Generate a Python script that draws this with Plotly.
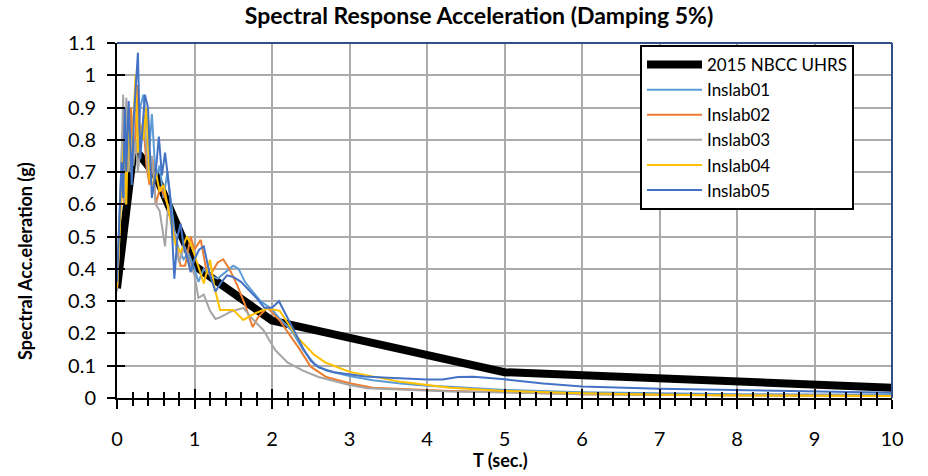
import plotly.graph_objects as go

# ---------------- data ----------------
T_nbcc = [0, 0.05, 0.1, 0.2, 0.3, 0.5, 1.0, 2.0, 5.0, 10.0]
sa_nbcc = [0.34, 0.43, 0.53, 0.74, 0.75, 0.69, 0.41, 0.24, 0.08, 0.032]

T01 = [0, 0.04, 0.07, 0.1, 0.13, 0.16, 0.2, 0.24, 0.27, 0.3, 0.34, 0.38, 0.42, 0.45, 0.5, 0.55, 0.6, 0.65, 0.7, 0.75,
       0.8, 0.86, 0.92, 1.0, 1.05, 1.12, 1.2, 1.3, 1.4, 1.5, 1.57, 1.65, 1.75, 1.85, 2.0, 2.1, 2.25, 2.4, 2.55, 2.7,
       3.0, 3.3, 3.66, 4.0, 4.3, 5.0, 6.0, 7.0, 8.0, 9.0, 10.0]
sa01 = [0.35, 0.6, 0.82, 0.7, 0.88, 0.75, 0.85, 0.93, 0.8, 0.9, 0.94, 0.85, 0.78, 0.88, 0.68, 0.72, 0.62, 0.7, 0.6, 0.5,
        0.46, 0.43, 0.45, 0.40, 0.36, 0.40, 0.38, 0.37, 0.39, 0.41, 0.40, 0.36, 0.33, 0.30, 0.275, 0.245, 0.21, 0.15, 0.105, 0.085,
        0.068, 0.055, 0.045, 0.038, 0.035, 0.025, 0.018, 0.014, 0.012, 0.011, 0.01]

T02 = [0, 0.03, 0.06, 0.09, 0.12, 0.15, 0.18, 0.21, 0.24, 0.27, 0.3, 0.34, 0.38, 0.42, 0.46, 0.5, 0.56, 0.62, 0.68, 0.74,
       0.82, 0.88, 0.95, 1.0, 1.08, 1.15, 1.2, 1.3, 1.37, 1.45, 1.55, 1.65, 1.75, 1.82, 1.94, 2.1, 2.36, 2.5, 2.7, 3.0,
       3.3, 4.3, 5.0, 6.0, 7.0, 8.0, 10.0]
sa02 = [0.34, 0.5, 0.7, 0.6, 0.85, 0.72, 0.9, 0.75, 0.82, 0.97, 0.78, 0.86, 0.72, 0.66, 0.74, 0.6, 0.655, 0.62, 0.58, 0.5,
        0.41, 0.41, 0.5, 0.46, 0.49, 0.40, 0.38, 0.42, 0.43, 0.40, 0.35, 0.29, 0.22, 0.25, 0.28, 0.24, 0.15, 0.097, 0.065, 0.046,
        0.032, 0.022, 0.018, 0.012, 0.01, 0.008, 0.006]

T03 = [0, 0.03, 0.06, 0.08, 0.1, 0.12, 0.15, 0.18, 0.21, 0.24, 0.27, 0.3, 0.35, 0.4, 0.45, 0.5, 0.55, 0.62, 0.66, 0.72,
       0.8, 0.87, 0.94, 1.0, 1.05, 1.12, 1.2, 1.27, 1.33, 1.46, 1.63, 1.76, 1.89, 2.04, 2.2, 2.4, 2.6, 3.0, 3.23, 4.3,
       5.0, 6.0, 8.0, 10.0]
sa03 = [0.33, 0.5, 0.75, 0.94, 0.6, 0.93, 0.7, 0.8, 0.72, 0.8, 0.7, 0.78, 0.88, 0.7, 0.75, 0.6, 0.58, 0.47, 0.6, 0.52,
        0.42, 0.47, 0.42, 0.38, 0.31, 0.32, 0.27, 0.245, 0.25, 0.267, 0.279, 0.242, 0.21, 0.149, 0.11, 0.085, 0.065, 0.04, 0.03, 0.02,
        0.017, 0.012, 0.008, 0.006]

T04 = [0, 0.03, 0.06, 0.09, 0.12, 0.15, 0.18, 0.21, 0.24, 0.27, 0.3, 0.34, 0.38, 0.42, 0.46, 0.5, 0.55, 0.6, 0.65, 0.7,
       0.75, 0.82, 0.9, 0.95, 1.0, 1.06, 1.12, 1.2, 1.26, 1.33, 1.5, 1.63, 1.76, 1.94, 2.1, 2.32, 2.54, 2.69, 3.0, 3.66,
       4.3, 5.0, 6.0, 7.0, 8.0, 10.0]
sa04 = [0.34, 0.5, 0.65, 0.8, 0.6, 0.9, 0.7, 0.85, 1.0, 0.76, 0.85, 0.8, 0.9, 0.68, 0.66, 0.7, 0.64, 0.66, 0.6, 0.55,
        0.48, 0.45, 0.5, 0.48, 0.44, 0.40, 0.355, 0.428, 0.34, 0.273, 0.273, 0.242, 0.26, 0.278, 0.27, 0.19, 0.135, 0.11, 0.081, 0.05,
        0.032, 0.022, 0.015, 0.01, 0.008, 0.006]

T05 = [0, 0.03, 0.06, 0.08, 0.1, 0.12, 0.15, 0.17, 0.19, 0.22, 0.25, 0.27, 0.3, 0.33, 0.36, 0.4, 0.45, 0.5, 0.54, 0.58,
       0.62, 0.65, 0.69, 0.74, 0.78, 0.82, 0.86, 0.9, 0.95, 1.0, 1.06, 1.12, 1.2, 1.27, 1.35, 1.42, 1.5, 1.6, 1.7, 1.8,
       1.9, 2.0, 2.09, 2.2, 2.3, 2.4, 2.5, 2.6, 2.8, 3.0, 3.2, 3.5, 3.8, 4.0, 4.2, 4.4, 4.6, 4.8, 5.0, 5.5,
       6.0, 7.0, 8.0, 9.0, 10.0]
sa05 = [0.36, 0.55, 0.73, 0.62, 0.90, 0.70, 0.92, 0.80, 0.66, 0.88, 0.98, 1.07, 0.74, 0.85, 0.94, 0.90, 0.62, 0.70, 0.81, 0.69,
        0.76, 0.70, 0.61, 0.37, 0.50, 0.54, 0.47, 0.44, 0.39, 0.43, 0.46, 0.47, 0.38, 0.33, 0.36, 0.38, 0.375, 0.36, 0.335, 0.31,
        0.28, 0.28, 0.30, 0.25, 0.20, 0.155, 0.115, 0.095, 0.08, 0.074, 0.067, 0.063, 0.059, 0.057, 0.057, 0.065, 0.066, 0.062, 0.058, 0.045,
        0.036, 0.029, 0.024, 0.02, 0.016]

x_ticks = list(range(0, 11))
x_tick_labels = [str(v) for v in x_ticks]
y_ticks = [0, 0.1, 0.2, 0.3, 0.4, 0.5, 0.6, 0.7, 0.8, 0.9, 1.0, 1.1]
y_tick_labels = ["0", "0.1", "0.2", "0.3", "0.4", "0.5", "0.6", "0.7", "0.8", "0.9", "1", "1.1"]

series = [
    ("Inslab01", T01, sa01, "#5B9BD5"),
    ("Inslab02", T02, sa02, "#ED7D31"),
    ("Inslab03", T03, sa03, "#A5A5A5"),
    ("Inslab04", T04, sa04, "#FFC000"),
    ("Inslab05", T05, sa05, "#4472C4"),
]

FONT = "Lato"
fig = go.Figure()
fig.add_trace(go.Scatter(x=T_nbcc, y=sa_nbcc, mode="lines", name="2015 NBCC UHRS",
                         line=dict(color="black", width=8)))
for name, xs, ys, col in series:
    fig.add_trace(go.Scatter(x=xs, y=ys, mode="lines", name=name, line=dict(color=col, width=2)))

# empty trace on the companion axes that draw the inner half of the cross ticks
fig.add_trace(go.Scatter(x=[], y=[], xaxis="x2", yaxis="y2", showlegend=False, hoverinfo="skip"))

grid_col = "#ABABAB"
fig.update_layout(
    width=928, height=476,
    margin=dict(l=117, r=36, t=43, b=78),
    paper_bgcolor="white", plot_bgcolor="white",
    font=dict(family=FONT, color="black"),
    title=dict(text="<b>Spectral Response Acceleration (Damping 5%)</b>",
               x=479 / 928, xref="container", xanchor="center",
               y=1 - 16 / 476, yref="container", yanchor="middle",
               font=dict(family=FONT, size=23, color="black")),
    xaxis=dict(range=[0, 10], tickvals=x_ticks, ticktext=x_tick_labels,
               showgrid=True, gridcolor=grid_col, gridwidth=1.5,
               showline=True, linecolor="black", linewidth=2,
               ticks="outside", ticklen=9, tickwidth=1.5, tickcolor="black",
               minor=dict(dtick=0.2, ticks="outside", ticklen=6, tickwidth=1.5, tickcolor="black", showgrid=False),
               ticklabelstandoff=13,
               tickfont=dict(family=FONT, size=20, color="black"), zeroline=False),
    xaxis2=dict(range=[0, 10], overlaying="x", side="bottom", anchor="y",
                tickvals=x_ticks, ticks="inside", ticklen=9, tickwidth=1.5, tickcolor="black",
                minor=dict(dtick=0.2, ticks="inside", ticklen=6, tickwidth=1.5, tickcolor="black", showgrid=False),
                showticklabels=False, showgrid=False, showline=False, zeroline=False),
    yaxis=dict(range=[0, 1.1], tickvals=y_ticks, ticktext=y_tick_labels,
               showgrid=True, gridcolor=grid_col, gridwidth=1.5,
               showline=True, linecolor="black", linewidth=2,
               ticks="outside", ticklen=8, tickwidth=1.5, tickcolor="black",
               ticklabelstandoff=7,
               tickfont=dict(family=FONT, size=20, color="black"), zeroline=False),
    yaxis2=dict(range=[0, 1.1], overlaying="y", side="left", anchor="x",
                tickvals=y_ticks, ticks="inside", ticklen=8, tickwidth=1.5, tickcolor="black",
                showticklabels=False, showgrid=False, showline=False, zeroline=False),
    legend=dict(x=(640 - 117) / 775, y=(398 - 45) / 355, xanchor="left", yanchor="top",
                bgcolor="white", bordercolor="black", borderwidth=2,
                font=dict(family=FONT, size=17, color="black"),
                itemwidth=55, tracegroupgap=0),
    showlegend=True,
    shapes=[
        dict(type="line", xref="paper", yref="paper", x0=0, x1=1, y0=1, y1=1,
             line=dict(color="#2F4F86", width=2), layer="above"),
        dict(type="line", xref="paper", yref="paper", x0=1, x1=1, y0=0, y1=1,
             line=dict(color="#2F4F86", width=2), layer="above"),
    ],
    annotations=[
        dict(text="<b>T (sec.)</b>", xref="paper", yref="paper", x=(500 - 117) / 775, y=(398 - 460) / 355,
             xanchor="center", yanchor="middle", showarrow=False,
             font=dict(family=FONT, size=18, color="black")),
        dict(text="<b>Spectral Acc.eleration (g)</b>", xref="paper", yref="paper",
             x=(25 - 117) / 775, y=(398 - 261) / 355, textangle=-90,
             xanchor="center", yanchor="middle", showarrow=False,
             font=dict(family=FONT, size=18, color="black")),
    ],
)

fig.write_html("out.html", config={"displayModeBar": False},
               post_script="document.body.style.margin='0';document.body.style.padding='0';")
